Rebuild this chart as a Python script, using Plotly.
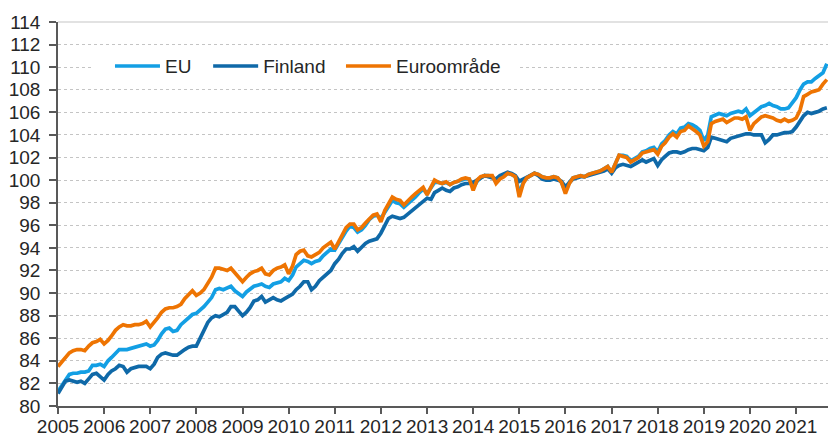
import pandas as pd
import plotly.graph_objects as go

years = list(range(2005, 2022))
tick_labels = [str(y) for y in years]
months = pd.date_range("2005-01-01", "2021-09-01", freq="MS")

eu = [
    81.3, 81.8, 82.3, 82.8, 82.9, 82.9, 83.0, 83.0, 83.1, 83.6, 83.6, 83.7,
    83.5, 84.0, 84.3, 84.7, 85.0, 85.0, 85.0, 85.1, 85.2, 85.3, 85.4, 85.5,
    85.3, 85.4, 85.8, 86.4, 86.8, 86.9, 86.6, 86.7, 87.2, 87.5, 87.8, 88.1,
    88.2, 88.5, 88.8, 89.2, 89.6, 90.3, 90.4, 90.3, 90.5, 90.6, 90.2, 89.9,
    89.7, 90.1, 90.3, 90.6, 90.7, 90.8, 90.6, 90.5, 90.8, 90.9, 91.0, 91.3,
    91.1, 91.6, 92.3, 92.6, 92.9, 92.8, 92.6, 92.8, 92.9, 93.3, 93.6, 93.9,
    93.8, 94.4, 94.9, 95.5, 95.9, 95.8, 95.4, 95.6, 96.0, 96.5, 96.8, 96.9,
    96.6, 97.2, 97.7, 98.2, 98.0, 97.9, 97.6, 97.9, 98.2, 98.5, 98.9, 99.2,
    98.8, 99.3, 99.8, 99.8, 99.7, 99.8, 99.6, 99.8, 99.9, 100.0, 100.1, 100.1,
    99.3, 99.9, 100.2, 100.4, 100.4, 100.3, 99.9, 100.2, 100.4, 100.6, 100.5, 100.3,
    98.8, 99.8, 100.2, 100.4, 100.6, 100.5, 100.3, 100.2, 100.2, 100.3, 100.2, 99.8,
    99.0, 99.8, 100.2, 100.3, 100.4, 100.3, 100.5, 100.6, 100.7, 100.8, 101.0, 101.2,
    100.7, 101.6, 102.2, 102.2, 102.1, 101.7, 101.9, 102.1, 102.5, 102.6, 102.8, 102.9,
    102.5, 103.2, 103.5, 104.0, 104.3, 104.1, 104.6, 104.7, 105.0, 104.9, 104.7, 104.4,
    103.5, 104.0, 105.6, 105.8, 105.9, 105.8, 105.7, 105.9, 106.0, 106.1, 106.0, 106.3,
    105.7, 106.0, 106.2, 106.5, 106.6, 106.8, 106.6, 106.5, 106.3, 106.3, 106.4, 106.8,
    107.3, 108.0, 108.5, 108.7, 108.7, 109.0, 109.2, 109.5, 110.3,
]

finland = [
    81.1, 81.7, 82.2, 82.3, 82.2, 82.1, 82.2, 82.0, 82.4, 82.8, 82.9, 82.6,
    82.3, 82.8, 83.1, 83.3, 83.6, 83.5, 83.0, 83.3, 83.4, 83.5, 83.5, 83.5,
    83.3, 83.7, 84.3, 84.6, 84.7, 84.6, 84.5, 84.5, 84.8, 85.0, 85.2, 85.3,
    85.3, 86.0, 86.8, 87.4, 87.8, 88.0, 87.9, 88.1, 88.3, 88.8, 88.8, 88.4,
    88.0, 88.3, 88.7, 89.3, 89.4, 89.7, 89.2, 89.4, 89.6, 89.4, 89.3, 89.5,
    89.7, 89.9, 90.3, 90.6, 91.0, 91.0, 90.3, 90.6, 91.1, 91.4, 91.8, 92.0,
    92.6, 93.0, 93.5, 93.9, 93.9, 94.1, 93.7, 94.1, 94.4, 94.6, 94.7, 94.8,
    95.3, 96.0, 96.6, 96.8, 96.7, 96.6, 96.7, 97.0, 97.3, 97.6, 97.8, 98.1,
    98.4, 98.3, 98.9, 99.1, 99.3, 99.1, 99.0, 99.3, 99.4, 99.6, 99.7, 99.7,
    99.8, 100.0, 100.2, 100.4, 100.3, 100.2, 100.1, 100.4, 100.6, 100.7, 100.6, 100.4,
    99.9, 100.1, 100.3, 100.5, 100.6, 100.4, 100.1, 100.0, 100.0, 100.1, 100.0, 99.9,
    99.4, 99.8, 100.1, 100.2, 100.3, 100.3, 100.4, 100.5, 100.6, 100.7, 100.8, 101.0,
    100.6, 101.1, 101.3, 101.4, 101.3, 101.2, 101.4, 101.6, 101.8, 101.6, 101.8, 101.9,
    101.3, 101.8, 102.1, 102.4, 102.5, 102.5, 102.4, 102.5, 102.7, 102.8, 102.8, 102.7,
    102.6, 102.9, 103.8, 103.7, 103.6, 103.5, 103.4, 103.7, 103.8, 103.9, 104.0, 104.1,
    104.1, 104.0, 104.0, 104.0, 103.3, 103.6, 104.0, 104.0, 104.1, 104.2, 104.2, 104.3,
    104.7, 105.2, 105.7, 106.0, 105.9, 106.0, 106.1, 106.3, 106.4,
]

euroomrade = [
    83.5, 83.9, 84.3, 84.7, 84.9, 85.0, 85.0, 84.9, 85.3, 85.6, 85.7, 85.9,
    85.5, 85.8, 86.2, 86.7, 87.0, 87.2, 87.1, 87.1, 87.2, 87.2, 87.3, 87.5,
    87.0, 87.4, 87.8, 88.3, 88.6, 88.7, 88.7, 88.8, 89.0, 89.5, 89.9, 90.2,
    89.8, 90.0, 90.3, 90.9, 91.4, 92.2, 92.2, 92.1, 92.0, 92.2, 91.8, 91.4,
    91.0, 91.4, 91.7, 91.9, 92.0, 92.2, 91.7, 91.6, 92.0, 92.2, 92.3, 92.5,
    91.7, 92.4, 93.4, 93.7, 93.8, 93.3, 93.2, 93.4, 93.6, 94.0, 94.3, 94.5,
    93.9, 94.6, 95.1, 95.8, 96.1, 96.1, 95.6, 95.8, 96.2, 96.6, 96.9, 97.0,
    96.3, 97.3, 97.9, 98.5, 98.3, 98.2, 97.8, 98.1, 98.5, 98.8, 99.1, 99.35,
    98.7, 99.4, 100.0, 99.8, 99.7, 99.85, 99.6, 99.8, 99.9, 100.1, 100.2, 100.1,
    99.1, 100.0, 100.3, 100.4, 100.4, 100.4, 99.7, 100.1, 100.3, 100.6, 100.5, 100.3,
    98.5, 99.7, 100.2, 100.4, 100.6, 100.5, 100.3, 100.2, 100.2, 100.3, 100.2, 99.8,
    98.8, 99.7, 100.2, 100.3, 100.4, 100.3, 100.5, 100.6, 100.7, 100.8, 101.0, 101.2,
    100.7, 101.5, 102.2, 102.1, 102.0, 101.6, 101.8, 102.0, 102.4, 102.5, 102.6, 102.7,
    102.3, 103.0, 103.3, 103.8, 104.1, 103.8, 104.3, 104.4, 104.8, 104.6, 104.3, 104.0,
    103.0, 103.4, 105.0, 105.2, 105.3, 105.4, 105.1, 105.3, 105.5, 105.5, 105.4, 105.6,
    104.4, 105.0, 105.3, 105.6, 105.7, 105.6, 105.5, 105.3, 105.2, 105.4, 105.2, 105.3,
    105.5, 106.2, 107.4, 107.6, 107.8, 107.9, 108.0, 108.5, 108.9,
]

series = [
    ("EU", eu, "#139fe4", "legend", 0.0675),
    ("Finland", finland, "#0f69a8", "legend2", 0.195),
    ("Euroområde", euroomrade, "#ee7402", "legend3", 0.3675),
]

font_family = "Liberation Sans, Arial, sans-serif"
text_color = "#262626"

fig = go.Figure()
legends = {}
for name, vals, col, leg, lx in series:
    fig.add_trace(go.Scatter(
        x=months, y=vals, name=name, mode="lines", legend=leg,
        line=dict(color=col, width=3.7),
    ))
    legends[leg] = dict(
        orientation="h", x=lx, y=0.885, xanchor="left", yanchor="middle",
        bgcolor="white", borderwidth=0, font=dict(size=19, color=text_color),
        itemwidth=45,
    )

fig.update_layout(
    width=828, height=436,
    margin=dict(l=58, r=0, t=22, b=30),
    paper_bgcolor="white", plot_bgcolor="white",
    font=dict(family=font_family, size=19, color=text_color),
    showlegend=True,
    **legends,
    xaxis=dict(
        type="date", automargin=False,
        range=["2005-01-01", "2021-09-10"],
        tickvals=[f"{y}-01-01" for y in years],
        ticktext=tick_labels,
        showgrid=False, zeroline=False,
        showline=True, linecolor="#595959", linewidth=1.5,
        ticks="outside", ticklen=6, tickcolor="#595959", tickwidth=1.5,
        ticklabelstandoff=-4,
        tickfont=dict(size=19, color=text_color),
    ),
    yaxis=dict(
        automargin=False,
        range=[80, 114], dtick=2, tick0=80,
        showgrid=True, gridcolor="#c4c4c4", griddash="dot", gridwidth=1,
        zeroline=False,
        showline=True, linecolor="#595959", linewidth=1.5,
        ticks="outside", ticklen=7, tickcolor="#595959", tickwidth=1.5,
        ticklabelstandoff=5,
        tickfont=dict(size=19, color=text_color),
    ),
    shapes=[
        dict(type="line", xref="paper", yref="paper", x0=0, x1=1, y0=1, y1=1,
             line=dict(color="#d9d9d9", width=1.5), layer="below"),
        dict(type="rect", xref="paper", yref="y", x0=0.044, x1=0.6, y0=109.2, y1=110.8,
             fillcolor="white", line=dict(width=0), layer="above"),
    ],
)

fig.write_html("out.html", config={"displayModeBar": False},
               post_script="document.body.style.margin='0px';")
